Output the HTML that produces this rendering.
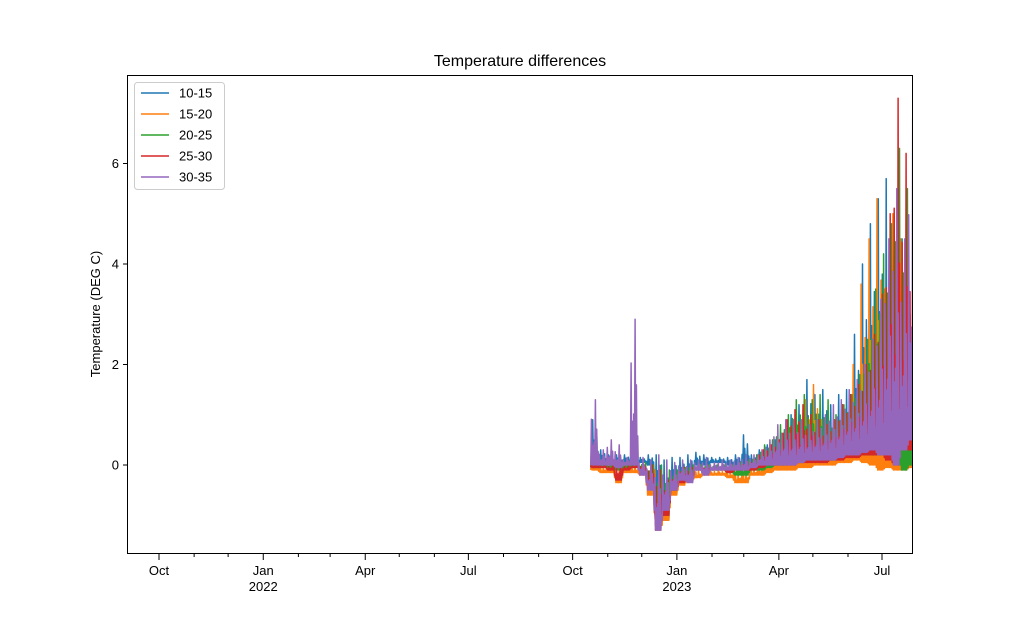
<!DOCTYPE html>
<html><head><meta charset="utf-8"><style>
body{margin:0;background:#fff;}
svg text{font-family:"Liberation Sans","DejaVu Sans",sans-serif;}
</style></head><body>
<svg id="chart" width="1014" height="622" xmlns="http://www.w3.org/2000/svg">
<defs><clipPath id="plotclip"><rect x="127.5" y="75.5" width="785" height="478"/></clipPath></defs>
<rect width="1014" height="622" fill="#fff"/>
<text x="520" y="66" font-size="16" text-anchor="middle">Temperature differences</text>
<text x="100" y="314" font-size="13" text-anchor="middle" transform="rotate(-90 100 314)">Temperature (DEG C)</text>
<g id="series" clip-path="url(#plotclip)"></g>
<rect x="127.5" y="75.5" width="785" height="478" fill="none" stroke="#000" stroke-width="1"/>
<g id="axes"></g>
<g id="legend"></g>
</svg>
<script>
const seriesNames=["10-15","15-20","20-25","25-30","30-35"];
const colors=["#1f77b4","#ff7f0e","#2ca02c","#d62728","#9467bd"];
const startDate="2022-10-17";
const binDays=7;
const blueHi=[.9,.3,.2,.2,.2,.2,.15,.2,.2,.1,.15,.15,.2,.25,.2,.15,.15,.15,.2,.6,.2,.3,.4,.5,.6,1.0,1.2,1.7,1.4,1.5,1.2,1.4,1.5,2.6,4.0,4.8,5.3,5.7,4.6,4.5,3.0];
const blueLo=[0,.05,.05,.05,.05,.05,.05,0,-.5,-1.1,-.4,-.3,-.2,0,0,.05,.05,0,0,0,0,0,0,.05,.05,.05,.1,.1,.1,.1,.1,.15,.2,.2,.3,.3,.3,.3,.3,.2,.5];
const orangeHi=[.3,0,0,0,0,0,-.05,-.1,-.1,-.3,-.2,-.1,-.05,-.05,-.1,-.1,-.1,-.1,-.1,-.05,-.05,.1,.2,.3,.4,.5,.7,1.3,1.6,.9,.8,.9,1.1,2.0,3.6,4.5,5.3,3.5,5.0,4.5,2.7];
const orangeLo=[-.1,-.15,-.15,-.35,-.15,-.15,-.2,-.6,-1.3,-1.1,-.6,-.4,-.3,-.25,-.2,-.2,-.2,-.25,-.35,-.35,-.2,-.2,-.15,-.1,-.1,-.1,-.05,-.05,0,0,0,.05,.05,.1,.05,0,-.1,-.05,-.1,-.1,-.05];
const greenHi=[.2,.05,.05,.05,.05,.05,.05,0,0,-.1,-.1,-.05,0,0,0,0,0,0,.05,.1,.2,.4,.5,.8,1.0,1.3,1.4,1.3,1.4,1.3,1.0,1.2,1.4,1.8,2.5,3.5,4.2,4.8,6.3,5.5,2.5];
const greenLo=[-.05,-.05,-.05,-.1,-.05,-.05,-.1,-.4,-1.2,-1.0,-.5,-.3,-.2,-.1,-.1,-.1,-.1,-.15,-.2,-.2,-.1,-.1,-.05,0,0,.05,.05,.1,.1,.1,.1,.15,.2,.2,.2,.2,.2,.2,.1,-.1,0];
const redHi=[.3,0,0,.1,0,0,0,0,-.1,-.3,-.2,-.05,-.05,-.05,-.05,-.05,-.05,-.05,0,.05,.1,.3,.4,.5,.9,1.1,1.2,1.0,.9,.8,.9,1.2,1.4,1.6,2.0,2.6,3.4,5.0,7.3,6.2,4.8];
const redLo=[-.05,-.05,-.1,-.3,-.1,-.05,-.1,-.4,-1.2,-1.0,-.5,-.35,-.3,-.1,-.1,-.1,-.1,-.15,-.1,-.1,-.1,-.05,0,0,0,0,.05,.05,.05,.05,.1,.1,.15,.15,.2,.2,.2,.1,0,.3,.3];
const purpleHi=[1.3,.3,.5,.4,.15,2.9,.15,.1,.2,.1,.05,.1,.1,.1,.15,.05,.1,.1,.15,.2,.2,.3,.5,.8,.9,.9,.9,.8,.9,1.0,1.2,1.3,1.5,1.7,2.0,2.5,3.3,4.5,5.5,4.5,6.9];
const purpleLo=[0,0,0,-.05,0,0,-.2,-.5,-1.3,-.9,-.5,-.3,-.35,-.1,-.2,-.1,-.1,-.1,-.1,-.1,-.05,0,0,0,0,0,.05,.1,.1,.1,.1,.15,.2,.2,.25,.3,.2,.2,0,.3,.5];
const yTicks=[0,2,4,6];
const majorTicks=[["2021-10-01","Oct",""],["2022-01-01","Jan","2022"],["2022-04-01","Apr",""],["2022-07-01","Jul",""],["2022-10-01","Oct",""],["2023-01-01","Jan","2023"],["2023-04-01","Apr",""],["2023-07-01","Jul",""]];
const minorTicks=["2021-09-01","2021-11-01","2021-12-01","2022-02-01","2022-03-01","2022-05-01","2022-06-01","2022-08-01","2022-09-01","2022-11-01","2022-12-01","2023-02-01","2023-03-01","2023-05-01","2023-06-01"];
const hiArr=[blueHi,orangeHi,greenHi,redHi,purpleHi];
const loArr=[blueLo,orangeLo,greenLo,redLo,purpleLo];

const NS="http://www.w3.org/2000/svg";
const origin=Date.UTC(2021,9,1);
const pxPerDay=(882-159)/638;
function dayOf(s){const p=s.split("-");return (Date.UTC(+p[0],+p[1]-1,+p[2])-origin)/86400000;}
function xs(d){return 159+d*pxPerDay;}
function ys(v){return 465-v*50.25;}
function mk(tag,attrs,parent){const e=document.createElementNS(NS,tag);for(const k in attrs)e.setAttribute(k,attrs[k]);parent.appendChild(e);return e;}

const sg=document.getElementById("series");
const d0=dayOf(startDate);
// fraction of (hi-lo) reached at each sub-step within a bin
const sub=[0,0.35,0,1,0,0.55,0,0.2,0,0.7,0,0.3];
for(let s=0;s<5;s++){
  const hi=hiArr[s],lo=loArr[s];let pts=[];
  for(let i=0;i<hi.length;i++){
    for(let k=0;k<sub.length;k++){
      const d=d0+i*binDays+k*binDays/sub.length;
      const base=(k===0&&i>0)?(lo[i]+lo[i-1])/2:lo[i];
      const val=base+(hi[i]-base)*sub[(k+s*2)%sub.length];
      pts.push(xs(d).toFixed(1)+","+ys(val).toFixed(1));
    }
  }
  const pl=mk("polyline",{points:pts.join(" "),fill:"none",stroke:colors[s],"stroke-width":1.5,"stroke-linejoin":"round"},sg);
  
  
}

const ag=document.getElementById("axes");
yTicks.forEach(t=>{
  const y=ys(t);
  const l=mk("line",{x1:123,x2:127,y1:y,y2:y,stroke:"#000"},ag);
  
  
  const tx=mk("text",{x:119,y:y+4.5,"font-size":13,"text-anchor":"end"},ag);tx.textContent=t;
  
  
});
majorTicks.forEach(m=>{
  const x=xs(dayOf(m[0]));
  const l=mk("line",{x1:x,x2:x,y1:554,y2:560,stroke:"#000"},ag);
  
  
  const tx=mk("text",{x:x,y:575,"font-size":13,"text-anchor":"middle"},ag);tx.textContent=m[1];
  
  
  if(m[2]){const ty=mk("text",{x:x,y:591,"font-size":13,"text-anchor":"middle"},ag);ty.textContent=m[2];
  
  }
});
minorTicks.forEach(m=>{
  const x=xs(dayOf(m));if(x<127)return;
  const l=mk("line",{x1:x,x2:x,y1:554,y2:557,stroke:"#000"},ag);
  
  
});

const lg=document.getElementById("legend");
const box=mk("rect",{x:134.5,y:82.5,width:90,height:107,rx:3,fill:"#fff","fill-opacity":0.8,stroke:"#ccc"},lg);


seriesNames.forEach((n,i)=>{
  const y=93+i*21;
  const l=mk("line",{x1:141,x2:169,y1:y,y2:y,stroke:colors[i],"stroke-width":1.5},lg);
  
  
  const t=mk("text",{x:179,y:y+4.5,"font-size":13},lg);t.textContent=n;
  
  
});
</script>
</body></html>
